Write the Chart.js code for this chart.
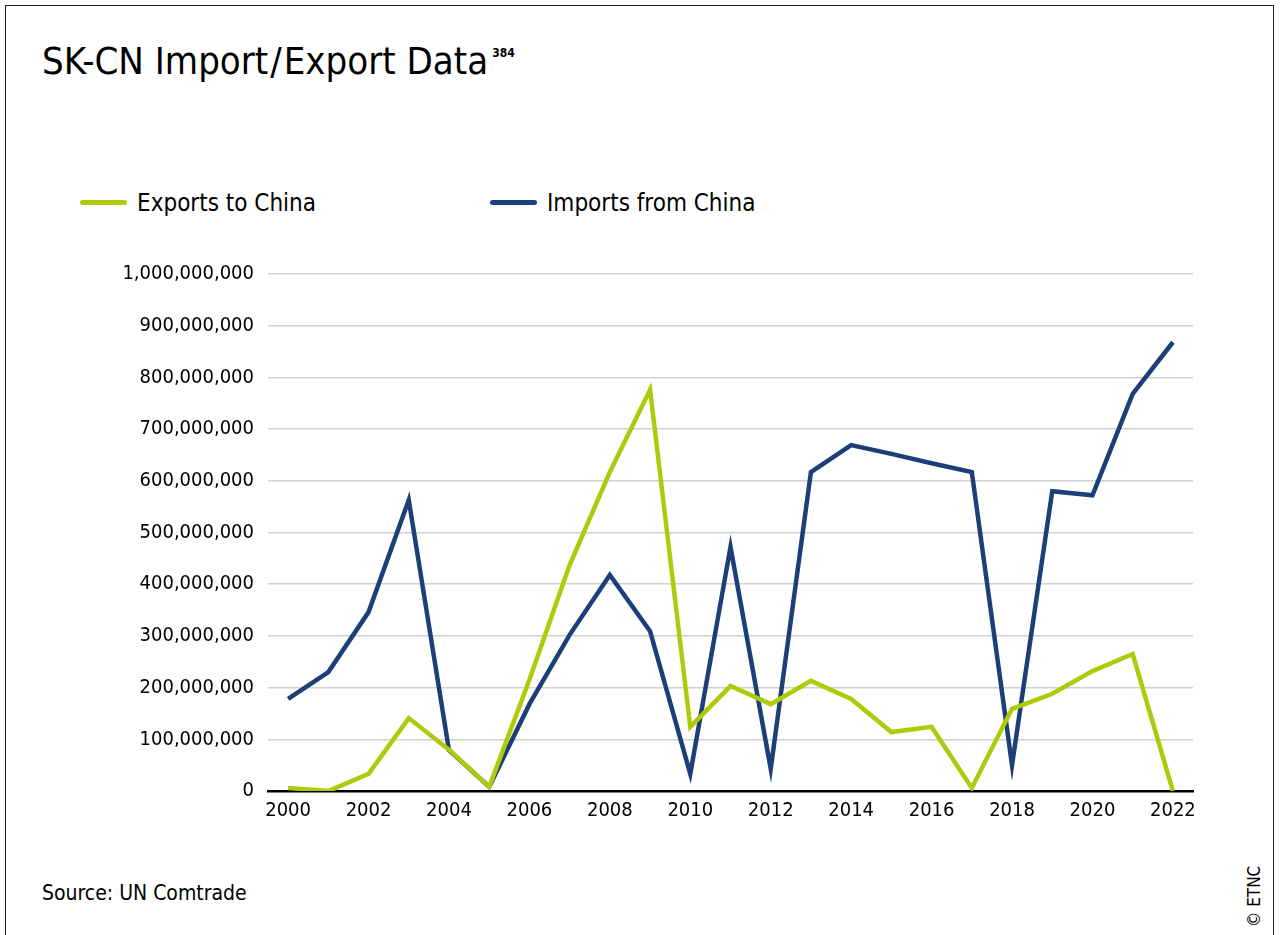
<!DOCTYPE html>
<html>
<head>
<meta charset="utf-8">
<script src="https://cdn.jsdelivr.net/npm/chart.js@4"></script>
<style>
  body { margin: 0; background: #fff; font-family: "DejaVu Sans Condensed", "DejaVu Sans", sans-serif; color: #000; }
  #frame { position: absolute; left: 5px; top: 5px; width: 1267px; height: 960px; border: 1.5px solid #222; }
  #title { position: absolute; left: 42px; top: 39px; font-size: 38px; white-space: nowrap; }
  #title .sl { margin: 0 2px; }
  #title sup { font-size: 12px; font-weight: bold; vertical-align: 17px; margin-left: 4px; }
  #legend { position: absolute; top: 189px; left: 80px; font-size: 24px; }
  .item { position: absolute; white-space: nowrap; top: 0; }
  .swatch { display: inline-block; width: 47px; height: 5px; border-radius: 3px; vertical-align: middle; margin-right: 10px; position: relative; top: -2px; }
  #source { position: absolute; left: 42px; top: 881px; font-size: 21px; }
  #copy { position: absolute; left: 1244px; top: 927px; font-size: 17px; transform: rotate(-90deg); transform-origin: left top; white-space: nowrap; }
  #wrap { position: absolute; left: 0; top: 240px; width: 1281px; height: 600px; }
</style>
</head>
<body>
<div id="frame"></div>
<div id="title">SK-CN Import<span class="sl">/</span>Export Data<sup>384</sup></div>
<div id="legend"></div>
<div id="wrap"><canvas id="myChart"></canvas></div>
<div id="source">Source: UN Comtrade</div>
<div id="copy">© ETNC</div>
<script>
let years = ['2000', '2001', '2002', '2003', '2004', '2005', '2006', '2007', '2008', '2009', '2010', '2011',
  '2012', '2013', '2014', '2015', '2016', '2017', '2018', '2019', '2020', '2021', '2022'];
let exportsToChina = [6e6, 0, 33e6, 141e6, 80e6, 8e6, 215e6, 437e6, 617e6, 776e6, 124e6, 203e6,
  168e6, 213e6, 178e6, 114e6, 124e6, 6e6, 159e6, 188e6, 232e6, 265e6, 0];
let importsFromChina = [178e6, 230e6, 346e6, 563e6, 79e6, 8e6, 168e6, 302e6, 418e6, 309e6, 33e6, 472e6,
  43e6, 617e6, 669e6, 652e6, 634e6, 617e6, 50e6, 580e6, 572e6, 768e6, 868e6];
let seriesNames = ['Exports to China', 'Imports from China'];
let colorHex = ['#AFCA0B', '#1D3F78'];

let fontFamily = '"DejaVu Sans Condensed", "DejaVu Sans", sans-serif';
let ctx = document.getElementById('myChart').getContext('2d');

let myChart = new Chart(ctx, {
  type: 'line',
  data: {
    labels: years,
    datasets: [{
      label: seriesNames[0],
      data: exportsToChina,
      borderColor: colorHex[0],
      backgroundColor: colorHex[0],
      borderWidth: 4.5,
      pointRadius: 0,
      tension: 0
    }, {
      label: seriesNames[1],
      data: importsFromChina,
      borderColor: colorHex[1],
      backgroundColor: colorHex[1],
      borderWidth: 4.5,
      pointRadius: 0,
      tension: 0
    }]
  },
  options: {
    responsive: true,
    maintainAspectRatio: false,
    animation: false,
    layout: { padding: { top: 34, right: 88, left: 0, bottom: 0 } },
    plugins: {
      legend: { display: false },
      tooltip: { enabled: false }
    },
    scales: {
      x: {
        offset: true,
        grid: { display: false, drawTicks: false },
        border: { color: '#000', width: 2.5 },
        ticks: {
          autoSkip: false,
          maxRotation: 0,
          padding: 8,
          color: '#000',
          font: { family: fontFamily, size: 20 },
          callback: (value, index) => index % 2 === 0 ? years[index] : ''
        },
        afterFit: (scale) => { scale.height = 49; }
      },
      y: {
        min: 0,
        max: 1000000000,
        grid: {
          drawTicks: false,
          color: (c) => c.tick.value === 0 ? 'rgba(0,0,0,0)' : '#D0D0D0',
          lineWidth: 1.5
        },
        border: { display: false },
        ticks: {
          stepSize: 100000000,
          padding: 14,
          color: '#000',
          font: { family: fontFamily, size: 20 },
          callback: (value) => value.toLocaleString('en-US')
        },
        afterFit: (scale) => { scale.width = 268; }
      }
    }
  }
});

// legend drawn from the chart's datasets
let legendDiv = document.getElementById('legend');
let legendX = [0, 410];
myChart.data.datasets.forEach((ds, i) => {
  let item = document.createElement('div');
  item.className = 'item';
  item.style.left = legendX[i] + 'px';
  item.innerHTML = '<span class="swatch" style="background:' + ds.borderColor + '"></span>' + ds.label;
  legendDiv.appendChild(item);
});
</script>
</body>
</html>
